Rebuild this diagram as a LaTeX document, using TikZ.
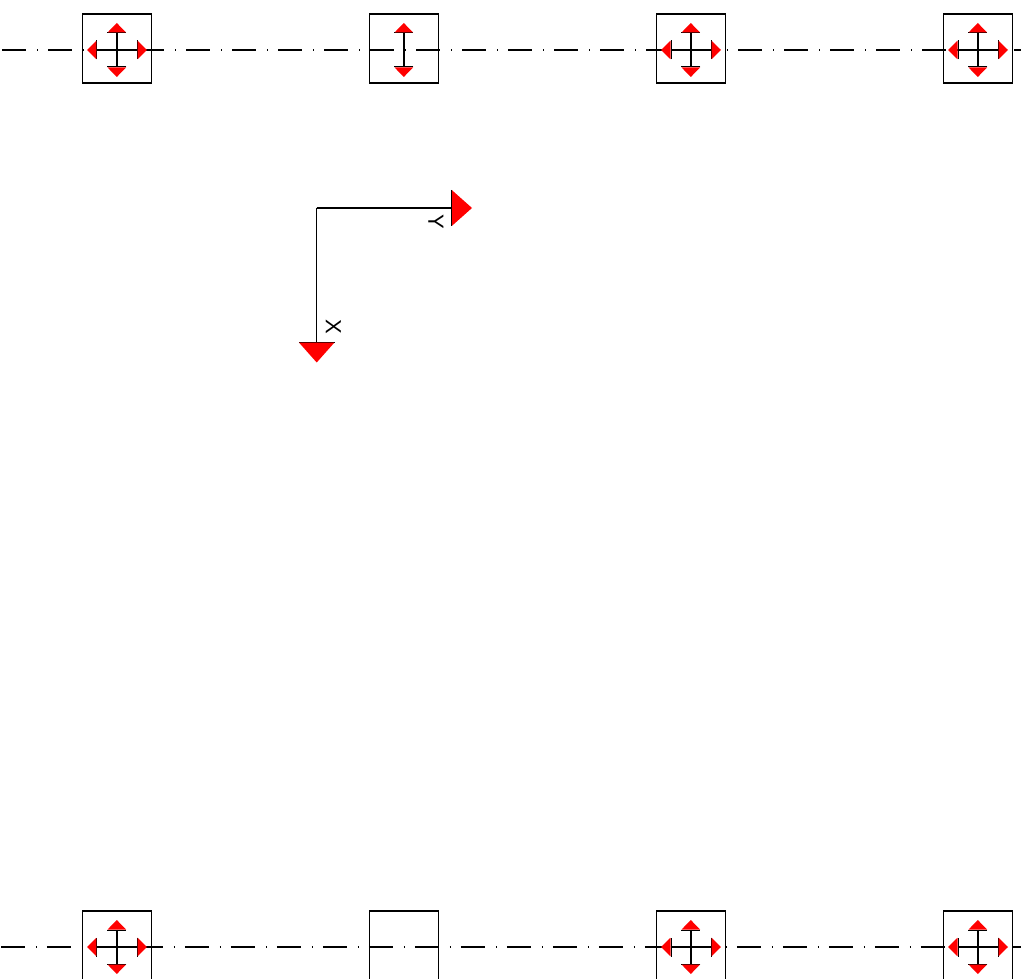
\documentclass[tikz,border=0pt]{standalone}
\usepackage{fontspec}
\setmainfont{Liberation Sans}
\usetikzlibrary{arrows.meta}

\tikzset{
	smalltip/.tip = {Bar[width=0.38cm, line width=0.02cm] Triangle[length=0.19cm, width=0.37cm, color=red, fill=red, line width=0pt]},
	bigtip/.tip = {Bar[width=0.72cm, line width=0.02cm] Triangle[length=0.4cm, width=0.71cm, color=red, fill=red, line width=0pt]},
	supbox/.style = {draw, line width = 0.025cm, minimum size = 1.38cm, inner sep = 0pt},
	shaft/.style = {smalltip-smalltip, line width = 0.035cm},
	axisline/.style = {-bigtip, line width = 0.028cm},
	centerline/.style = {line width = 0.025cm, dash pattern = on 0.48cm off 0.22cm on 0.02cm off 0.2cm},
	axislabel/.style = {rotate = -90, inner sep = 0pt, font = \fontsize{12.5}{12.5}\selectfont}
}

\begin{document}
\begin{tikzpicture}[x=0.02cm, y=-0.02cm]

		\useasboundingbox (0,0) rectangle (1021,979);

		\coordinate (topleft) at (2.5,50);
		\coordinate (topright) at (1021,50);
		\coordinate (botleft) at (1,947);
		\coordinate (botright) at (1021,947);

		\draw [centerline] (topleft) -- (topright);
		\draw [centerline] (botleft) -- (botright);

		%%%%%%%%%%%%%%%%%%%%%%%%%%%%%%%%%%%%%%%%%%%%%%%%%%%%%%%%%%%%%%%%%%%%%

		\node [supbox] (topa) at (116.8,48.5) {};
		\coordinate (topan) at (116.8,23);
		\coordinate (topas) at (116.8,77);
		\coordinate (topaw) at (87,50);
		\coordinate (topae) at (147,50);
		\draw [shaft] (topan) -- (topas);
		\draw [shaft] (topaw) -- (topae);

		\node [supbox] (topb) at (403.8,48.5) {};
		\coordinate (topbn) at (403.8,23);
		\coordinate (topbs) at (403.8,77);
		\draw [shaft] (topbn) -- (topbs);

		\node [supbox] (topc) at (690.8,48.5) {};
		\coordinate (topcn) at (690.8,23);
		\coordinate (topcs) at (690.8,77);
		\coordinate (topcw) at (661,50);
		\coordinate (topce) at (721,50);
		\draw [shaft] (topcn) -- (topcs);
		\draw [shaft] (topcw) -- (topce);

		\node [supbox] (topd) at (977.8,48.5) {};
		\coordinate (topdn) at (977.8,23);
		\coordinate (topds) at (977.8,77);
		\coordinate (topdw) at (948,50);
		\coordinate (topde) at (1008,50);
		\draw [shaft] (topdn) -- (topds);
		\draw [shaft] (topdw) -- (topde);

		%%%%%%%%%%%%%%%%%%%%%%%%%%%%%%%%%%%%%%%%%%%%%%%%%%%%%%%%%%%%%%%%%%%%%

		\coordinate (origin) at (316.7,208);
		\coordinate (axisx) at (316.7,362.5);
		\coordinate (axisy) at (472,208);
		\draw [axisline] (origin) -- (axisx);
		\draw [axisline] (origin) -- (axisy);
		\node [axislabel] (labelx) at (333.5,326.5) {X};
		\node [axislabel] (labely) at (436,221.5) {Y};

		%%%%%%%%%%%%%%%%%%%%%%%%%%%%%%%%%%%%%%%%%%%%%%%%%%%%%%%%%%%%%%%%%%%%%

		\node [supbox] (bota) at (116.8,945.5) {};
		\coordinate (botan) at (116.8,920);
		\coordinate (botas) at (116.8,974);
		\coordinate (botaw) at (87,947);
		\coordinate (botae) at (147,947);
		\draw [shaft] (botan) -- (botas);
		\draw [shaft] (botaw) -- (botae);

		\node [supbox] (botb) at (403.8,945.5) {};

		\node [supbox] (botc) at (690.8,945.5) {};
		\coordinate (botcn) at (690.8,920);
		\coordinate (botcs) at (690.8,974);
		\coordinate (botcw) at (661,947);
		\coordinate (botce) at (721,947);
		\draw [shaft] (botcn) -- (botcs);
		\draw [shaft] (botcw) -- (botce);

		\node [supbox] (botd) at (977.8,945.5) {};
		\coordinate (botdn) at (977.8,920);
		\coordinate (botds) at (977.8,974);
		\coordinate (botdw) at (948,947);
		\coordinate (botde) at (1008,947);
		\draw [shaft] (botdn) -- (botds);
		\draw [shaft] (botdw) -- (botde);

\end{tikzpicture}
\end{document}
